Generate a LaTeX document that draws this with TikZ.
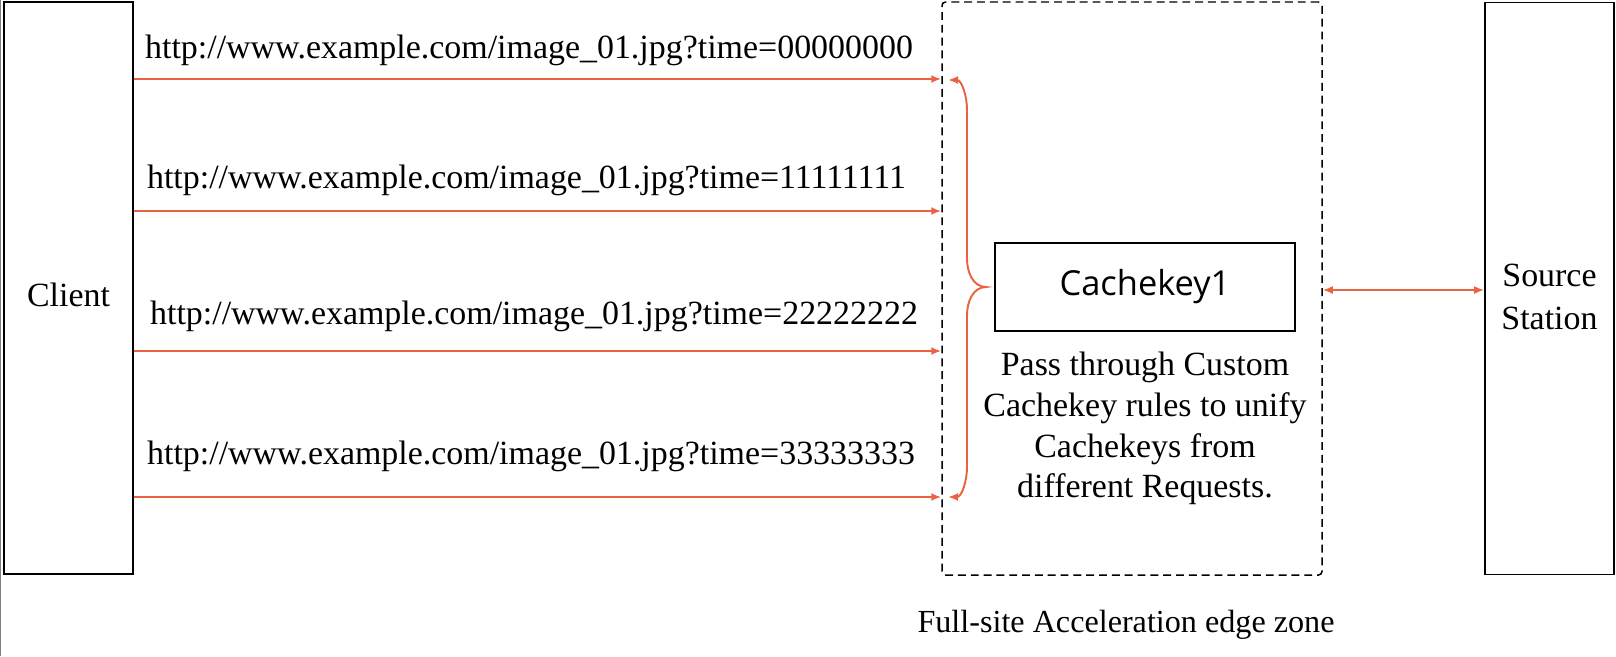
\documentclass[tikz,border=0pt]{standalone}
\usepackage{fontspec}
\setmainfont{Liberation Serif}
\newfontfamily\keyfont{Open Sans}
\usetikzlibrary{arrows.meta}
\definecolor{reqred}{RGB}{233,98,66}

\begin{document}
\begin{tikzpicture}[
    txt/.style={font=\fontsize{19.3}{23.2}\selectfont},
    box/.style={draw, line width=1pt, minimum width=2.58cm, minimum height=11.44cm, inner sep=0pt},
    url/.style={txt, anchor=base, inner sep=0pt},
    req/.style={reqred, line width=1.1pt, -{Latex[length=2mm,width=1.6mm]}},
    both/.style={reqred, line width=1.1pt, {Latex[length=2mm,width=1.6mm]}-{Latex[length=2mm,width=1.6mm]}}]

    \useasboundingbox (0,0) rectangle (32.32,13.12);
    \draw [gray, line width=0.8pt] (0.01,0) -- (0.01,13.12);

    \node [box, txt, text height=21pt, text depth=0pt] (client) at (1.37,7.36) {Client};
    \node [box] (src) at (30.99,7.35) {};
    \node [txt, align=center] (srctext) at ([yshift=-0.17cm]src.center) {Source\\[1.5pt]Station};
    \node [draw, line width=0.85pt, dash pattern=on 4.5pt off 2.8pt, rounded corners=2pt,
           minimum width=7.6cm, minimum height=11.46cm] (zone) at (22.64,7.35) {};
    \node [draw, line width=1pt, minimum width=6cm, minimum height=1.76cm,
           font=\keyfont\fontsize{19.6}{23}\selectfont] (key) at (22.9,7.38) {Cachekey1};
    \node [txt, align=center] (desc) at (22.9,4.55) {Pass through Custom\\Cachekey rules to unify\\Cachekeys from\\different Requests.};
    \node [url, font=\fontsize{18.3}{22}\selectfont] (zonelabel) at (22.52,0.48) {Full-site Acceleration edge zone};

    \node [url] (u0) at (10.58,11.96) {http://www.example.com/image\_01.jpg?time=00000000};
    \node [url] (u1) at (10.53,9.36) {http://www.example.com/image\_01.jpg?time=11111111};
    \node [url] (u2) at (10.68,6.64) {http://www.example.com/image\_01.jpg?time=22222222};
    \node [url] (u3) at (10.62,3.84) {http://www.example.com/image\_01.jpg?time=33333333};

    \coordinate (in0) at (zone.west |- 0,11.54);
    \coordinate (in1) at (zone.west |- 0,8.9);
    \coordinate (in2) at (zone.west |- 0,6.1);
    \coordinate (in3) at (zone.west |- 0,3.18);
    \draw [req] (client.east |- in0) -- (in0);
    \draw [req] (client.east |- in1) -- (in1);
    \draw [req] (client.east |- in2) -- (in2);
    \draw [req] (client.east |- in3) -- (in3);

    % brace gathering the four requests
    \coordinate (btop) at (18.96,11.52);
    \coordinate (bbot) at (18.96,3.18);
    \coordinate (tip) at ([xshift=-1.6mm]key.west);
    \draw [both] (btop) to[out=0,in=90] (19.34,10.92) -- (19.34,7.95)
        to[out=-90,in=180] (tip) to[out=180,in=90] (19.34,6.81) -- (19.34,3.78)
        to[out=-90,in=0] (bbot);

    \coordinate (out) at (zone.east |- 0,7.32);
    \draw [both] (out) -- (src.west |- out);
\end{tikzpicture}
\end{document}
